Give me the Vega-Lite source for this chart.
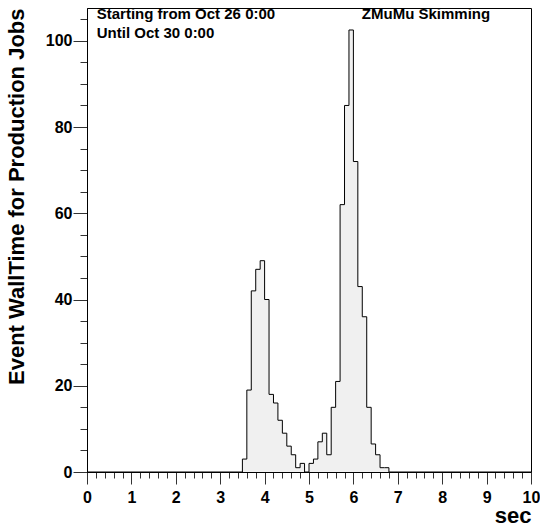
{
  "$schema": "https://vega.github.io/schema/vega-lite/v6.json",
  "width": 444,
  "height": 464,
  "autosize": {"type": "none"},
  "padding": {"left": 87, "top": 8, "right": 9, "bottom": 57},
  "background": "white",
  "config": {
    "view": {"stroke": "black", "strokeWidth": 1},
    "font": "Liberation Sans",
    "axis": {
      "domainColor": "black",
      "domainWidth": 1,
      "tickColor": "#333333",
      "tickWidth": 1,
      "labelFont": "Liberation Sans",
      "labelFontWeight": "bold",
      "labelFontSize": 16,
      "labelColor": "black",
      "titleFont": "Liberation Sans",
      "titleFontWeight": "bold",
      "titleFontSize": 22,
      "titleColor": "black",
      "grid": false,
      "labelOverlap": false,
      "labelFlush": false,
      "labelBound": false
    }
  },
  "datasets": {
    "hist": [
      {"t": 0, "n": 0},
      {"t": 3.5, "n": 3},
      {"t": 3.6, "n": 19},
      {"t": 3.7, "n": 42},
      {"t": 3.8, "n": 47},
      {"t": 3.9, "n": 49},
      {"t": 4.0, "n": 40},
      {"t": 4.1, "n": 18},
      {"t": 4.2, "n": 16},
      {"t": 4.3, "n": 12},
      {"t": 4.4, "n": 9},
      {"t": 4.5, "n": 6},
      {"t": 4.6, "n": 4},
      {"t": 4.7, "n": 1},
      {"t": 4.8, "n": 2},
      {"t": 4.9, "n": 0},
      {"t": 5.0, "n": 2},
      {"t": 5.1, "n": 3},
      {"t": 5.2, "n": 7},
      {"t": 5.3, "n": 9},
      {"t": 5.4, "n": 4},
      {"t": 5.5, "n": 15},
      {"t": 5.6, "n": 21},
      {"t": 5.7, "n": 62},
      {"t": 5.8, "n": 85},
      {"t": 5.9, "n": 102.5},
      {"t": 6.0, "n": 72},
      {"t": 6.1, "n": 43},
      {"t": 6.2, "n": 36},
      {"t": 6.3, "n": 15},
      {"t": 6.4, "n": 6.5},
      {"t": 6.5, "n": 4},
      {"t": 6.6, "n": 1},
      {"t": 6.7, "n": 1},
      {"t": 6.8, "n": 0},
      {"t": 10, "n": 0}
    ],
    "notes": [
      {"label": "Starting from Oct 26 0:00", "t": 0.22, "n": 105.1},
      {"label": "Until Oct 30 0:00", "t": 0.22, "n": 100.7},
      {"label": "ZMuMu Skimming", "t": 6.19, "n": 105.1}
    ]
  },
  "encoding": {
    "x": {
      "field": "t",
      "type": "quantitative",
      "scale": {"domain": [0, 10], "nice": false, "zero": false},
      "axis": {
        "title": "sec",
        "titleAnchor": "end",
        "titleAlign": "right",
        "titlePadding": 0,
        "values": [0,0.2,0.4,0.6,0.8,1,1.2,1.4,1.6,1.8,2,2.2,2.4,2.6,2.8,3,3.2,3.4,3.6,3.8,4,4.2,4.4,4.6,4.8,5,5.2,5.4,5.6,5.8,6,6.2,6.4,6.6,6.8,7,7.2,7.4,7.6,7.8,8,8.2,8.4,8.6,8.8,9,9.2,9.4,9.6,9.8,10],
        "labelExpr": "abs(datum.value - round(datum.value)) < 0.01 ? format(datum.value, 'd') : ''",
        "tickSize": {"condition": {"test": "abs(datum.value - round(datum.value)) < 0.01", "value": 12}, "value": 6},
        "labelPadding": 5
      }
    },
    "y": {
      "field": "n",
      "type": "quantitative",
      "scale": {"domain": [0, 107.6], "nice": false},
      "axis": {
        "title": "Event WallTime for Production Jobs",
        "titleAnchor": "end",
        "titlePadding": 17,
        "values": [0,5,10,15,20,25,30,35,40,45,50,55,60,65,70,75,80,85,90,95,100,105],
        "labelExpr": "datum.value % 20 === 0 ? format(datum.value, 'd') : ''",
        "tickSize": {"condition": {"test": "datum.value % 20 === 0", "value": 14}, "value": 7},
        "labelPadding": 1
      }
    }
  },
  "layer": [
    {
      "data": {"name": "hist"},
      "mark": {"type": "area", "interpolate": "step-after", "color": "#f0f0f0"}
    },
    {
      "data": {"name": "hist"},
      "mark": {"type": "line", "interpolate": "step-after", "color": "black", "strokeWidth": 1}
    },
    {
      "data": {"name": "notes"},
      "mark": {"type": "text", "align": "left", "baseline": "alphabetic", "font": "Liberation Sans", "fontWeight": "bold", "fontSize": 15, "color": "black"},
      "encoding": {
        "text": {"field": "label"}
      }
    }
  ]
}
